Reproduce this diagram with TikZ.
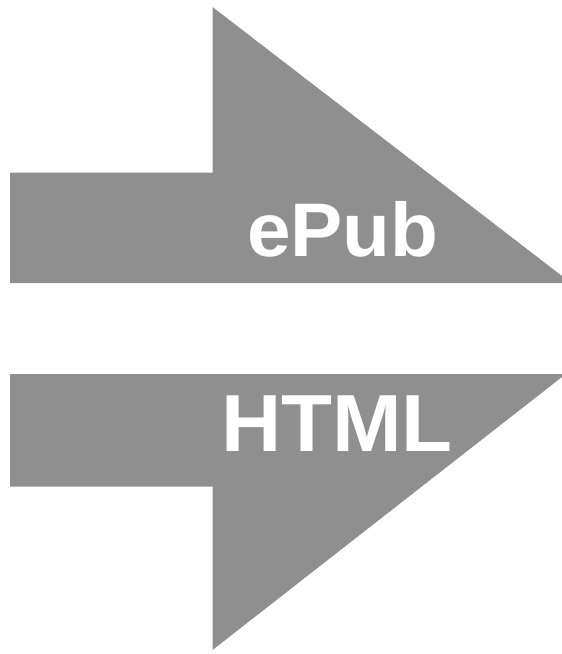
\documentclass[tikz,border=0pt]{standalone}
\usepackage{fontspec}
\setmainfont{Liberation Sans}
\definecolor{arrowgray}{RGB}{ 143, 143, 143 }

\begin{document}
\begin{tikzpicture}[x=1pt,y=-1pt]
\tikzstyle{arrow shape}=[fill=arrowgray,draw=none]
\tikzstyle{arrow label}=[text=white,inner sep=0,anchor=base west,font=\bfseries,xscale=1.03]

\useasboundingbox (0,0) rectangle (562,654);

% upper arrow (flat underside)
\coordinate (ul) at (10,172.5);
\coordinate (un) at (212.5,172.5);
\coordinate (uh) at (212.5,7);
\coordinate (ut) at (562,276);
\coordinate (ub) at (10,283);
\fill[arrow shape] (ul) -- (un) -- (uh) -- (ut) -- (562,283) -- (ub) -- cycle;

% lower arrow (flat top side)
\coordinate (ll) at (10,374);
\coordinate (lt) at (562,377);
\coordinate (lh) at (212.5,650);
\coordinate (ln) at (212.5,486.5);
\coordinate (lb) at (10,486.5);
\fill[arrow shape] (ll) -- (562,374) -- (lt) -- (lh) -- (ln) -- (lb) -- cycle;

% labels
\node(epub)[arrow label,font=\bfseries\fontsize{76}{76}\selectfont] at (247,256) {ePub};
\node(html)[arrow label,font=\bfseries\fontsize{81}{81}\selectfont] at (221,451) {HTML};

\end{tikzpicture}
\end{document}
